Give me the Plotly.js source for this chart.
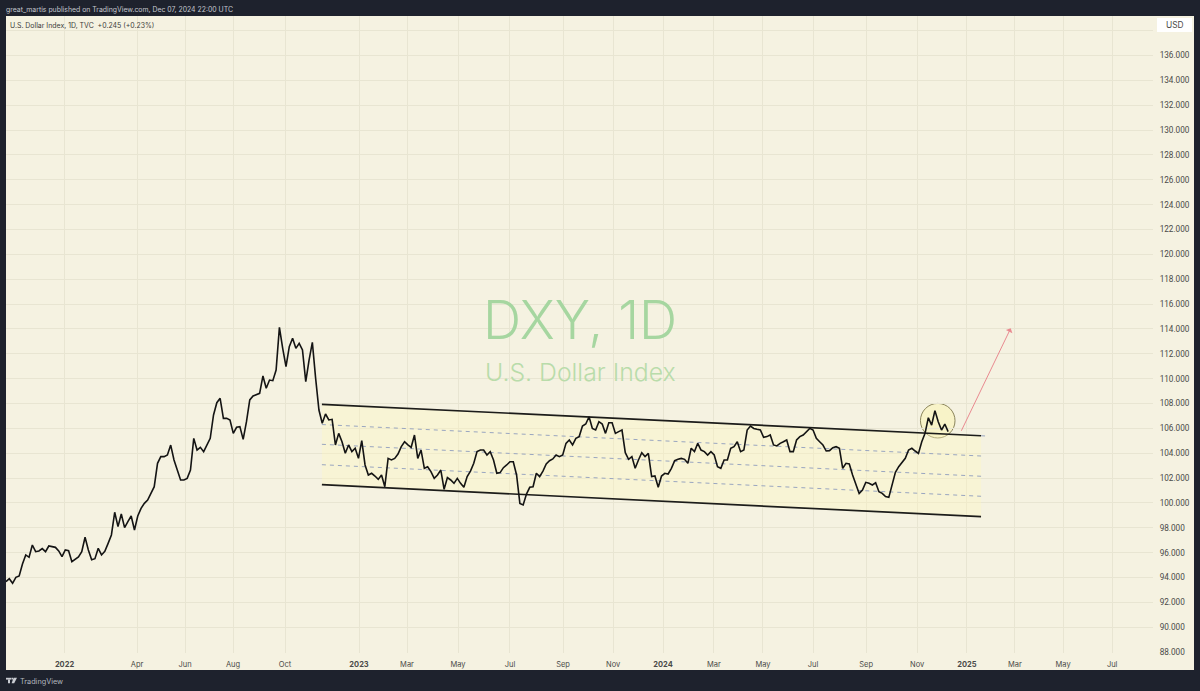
<!DOCTYPE html>
<html><head><meta charset="utf-8">
<script src="https://cdn.plot.ly/plotly-3.0.1.min.js"></script>
<style>html,body{margin:0;padding:0;background:#1e222d;overflow:hidden}</style>
</head><body><div id="chart" style="width:1200px;height:691px"></div>
<script>
// Closing values of the U.S. Dollar Index, one every few sessions
const closes2021 = [93.67,93.91,93.54,94.02,94.13,95.09,95.82,95.63,96.62,96.08,96.14,96.33,96.08,96.54,96.49,96.43,96.14,95.68,96.22,96.16,95.28,95.47,95.66,96.08,97.24,96.22,95.44,95.52,96.35,95.82,96.11,96.75,97.43,99.25,98.10,99.11,98.02,98.50,98.95,97.83,98.95,99.57,99.97,100.24,100.78,101.31];
const closes2022 = [103.19,103.73,103.73,103.86,104.66,103.46,102.65,101.85,101.85,101.98,102.65,105.20,104.26,104.48,104.13,104.66,105.20,107.08,108.07,108.42,106.81,106.81,106.68,105.60,106.09,106.14,105.12,106.54,108.29,108.61,108.69,108.82,110.22,109.23,109.89,109.84,110.70,114.13,112.44,110.97,112.58,113.25,112.44,112.84,112.31,109.76,111.50,112.92,110.03,107.48,106.41,107.16,106.68];
const closes2023 = [106.73,104.67,105.60,104.93,104.00,104.67,104.13,104.40,103.59,105.01,103.06,102.25,102.39,102.17,101.90,102.25,101.31,103.59,103.46,103.59,103.94,104.53,104.93,104.67,104.48,105.47,103.59,104.26,102.79,102.92,102.52,101.98,102.25,102.65,101.10,102.04,101.85,101.58,101.98,101.58,101.26,102.12,102.57,103.19,104.13,104.26,104.26,103.86,104.13,103.46,102.39,102.44,102.84,103.06,103.32,103.32,102.25,99.97,99.84,100.72,101.26,101.31,102.39,102.12,102.57,103.14,103.40,103.54,103.86,103.73,103.86,104.80,105.07,104.67,105.20,105.34];
const closes2024a = [106.19,106.35,106.94,106.00,105.87,106.54,106.35,105.60,106.46,106.46,105.60,105.74,105.87,104.05,103.51,103.73,102.79,103.46,104.05,103.73,103.99,102.12,102.17,101.26,102.17,102.39,102.33,102.79,103.40,103.51,103.59,103.51,103.19,104.40,104.13,104.80,104.26,104.13,103.86,104.13,103.86,102.92,102.79,103.46,103.46,104.40,104.53,104.93,104.13,104.26,105.87,106.19,106.00,105.93,105.87,105.28,105.34,105.47,104.67,104.59,104.80,104.93,105.07,104.13,104.13,105.07,105.34,105.47,105.74,106.00,105.87,105.20,104.93];
const closes2024b = [104.66,104.18,104.21,104.45,104.53,104.40,102.79,103.19,103.14,102.25,101.53,100.77,101.04,101.66,101.58,101.45,101.63,100.91,100.77,100.51,100.45,101.45,102.46,102.92,103.27,103.59,104.26,104.40,104.18,103.99,104.93,105.60,106.86,106.27,107.43,106.54,105.87,106.35,105.74];
const closes = [...closes2021,...closes2022,...closes2023,...closes2024a,...closes2024b];
const sampleIndex = closes.map((_,i)=>i);

// Time axis: tick positions on the sample scale, and their labels
const timeTickVals = [17.76,39.77,54.34,68.91,84.70,107.17,121.74,137.22,153.0,169.1,184.3,199.45,214.9,229.8,245.0,261.1,276.6,291.7,306.3,320.9,335.8];
const timeTickText = ['<b>2022</b>','Apr','Jun','Aug','Oct','<b>2023</b>','Mar','May','Jul','Sep','Nov','<b>2024</b>','Mar','May','Jul','Sep','Nov','<b>2025</b>','Mar','May','Jul'];

// Price axis
const priceTickVals = [88,90,92,94,96,98,100,102,104,106,108,110,112,114,116,118,120,122,124,126,128,130,132,134,136,138];
const priceTickText = priceTickVals.map(v=>v===138?'':v.toFixed(3));

// Channel drawing (start, end)
const channelX = [95.9,296.0];
const channelTop = [107.94,105.41];
const channelMid1 = [106.31,103.78];
const channelMid2 = [104.72,102.15];
const channelMid3 = [103.08,100.54];
const channelBottom = [101.47,98.90];
const topExtendX = [296.0,297.4];
const topExtendY = [105.41,105.39];

const L=6,T=16,PW=1147,PH=637;
const px=x=>(x-L)/PW, py=y=>(T+PH-y)/PH;
const FONT='Inter, "Noto Sans", sans-serif';
const INK='#4a4a48';
const solid=(y,w)=>({x:channelX,y:y,mode:'lines',line:{color:'#1c1c1a',width:w},hoverinfo:'skip',showlegend:false});
const dash=(x,y)=>({x:x,y:y,mode:'lines',line:{color:'#9aa6c0',width:1,dash:'4px,4px'},hoverinfo:'skip',showlegend:false});

const traces=[
 {x:[channelX[0],channelX[1],channelX[1],channelX[0]],
  y:[channelTop[0],channelTop[1],channelBottom[1],channelBottom[0]],
  mode:'none',fill:'toself',fillcolor:'rgba(255,248,190,0.36)',hoverinfo:'skip',showlegend:false},
 dash(channelX,channelMid1),dash(channelX,channelMid2),dash(channelX,channelMid3),
 solid(channelTop,1.7),solid(channelBottom,1.7),dash(topExtendX,topExtendY),
 {x:sampleIndex,y:closes,mode:'lines',line:{color:'#141414',width:1.6},name:'DXY',showlegend:false}
];

const rect=(x0,y0,x1,y1,c,layer)=>({type:'rect',xref:'paper',yref:'paper',x0:px(x0),x1:px(x1),y0:py(y0),y1:py(y1),fillcolor:c,line:{width:0},layer:layer||'below'});
const note=(x,y,text,size,color,anchor,extra)=>Object.assign({xref:'paper',yref:'paper',x:px(x),y:py(y),text:text,showarrow:false,xanchor:anchor||'left',yanchor:'middle',font:{family:FONT,size:size,color:color}},extra||{});

const layout={
 width:1200,height:691,
 margin:{l:L,r:1200-L-PW,t:T,b:691-T-PH,pad:0},
 paper_bgcolor:'#1e222d',plot_bgcolor:'rgba(0,0,0,0)',showlegend:false,
 xaxis:{type:'linear',range:[0,348.2],tickmode:'array',tickvals:timeTickVals,ticktext:timeTickText,
   showgrid:true,gridcolor:'#e8e5d2',gridwidth:1,zeroline:false,showline:false,ticks:'outside',ticklen:4,tickcolor:'rgba(0,0,0,0)',
   tickfont:{family:FONT,size:7.5,color:INK}},
 yaxis:{type:'linear',side:'right',range:[87.93,139.18],tickmode:'array',tickvals:priceTickVals,ticktext:priceTickText,
   showgrid:true,gridcolor:'#e8e5d2',gridwidth:1,zeroline:false,showline:false,ticks:'outside',ticklen:4,tickcolor:'rgba(0,0,0,0)',
   tickfont:{family:'Roboto, sans-serif',size:8.2,color:INK}},
 shapes:[
  rect(6,16,1194,670,'#f5f2e1'),
  rect(1157,18,1192,32,'#ffffff','above'),
  rect(1155,655,1192,657.6,'#f5f2e1','above'),
  {type:'circle',xref:'x',yref:'y',x0:277.6,x1:288.1,y0:105.23,y1:108.01,line:{color:'#8a845a',width:1},fillcolor:'rgba(252,243,170,0.45)',layer:'below'},
  rect(6,677.8,11,679.6,'#c9ccd2','above'),
  rect(8,679.6,10,683.2,'#c9ccd2','above'),
  rect(11.4,677.8,13,679.6,'#c9ccd2','above'),
  {type:'path',xref:'paper',yref:'paper',layer:'above',fillcolor:'#c9ccd2',line:{width:0},
   path:`M ${px(13.6)} ${py(677.8)} L ${px(17)} ${py(677.8)} L ${px(14.2)} ${py(683.2)} L ${px(11.6)} ${py(683.2)} Z`}
 ],
 annotations:[
  note(4,10,'great_martis published on TradingView.com, Dec 07, 2024 22:00 UTC',6.9,'#c4c7cd'),
  note(8,26,'U.S. Dollar Index, 1D, TVC&nbsp;&nbsp;+0.245 (+0.23%)',6.95,'#3c3c3a'),
  note(1174.5,25,'USD',8.4,INK,'center'),
  note(580,320,'DXY, 1D',53,'#a6d6a0','center',{font:{family:'Inter, Roboto, sans-serif',size:53,color:'#a6d6a0',weight:300}}),
  note(580,372,'U.S. Dollar Index',24.8,'#b9dcaa','center',{font:{family:'Inter, Roboto, sans-serif',size:24.8,color:'#b9dcaa',weight:300}}),
  note(17.5,681,'TradingView',7.3,'#b3b7bf'),
  {xref:'x',yref:'y',axref:'x',ayref:'y',x:305.0,y:114.05,ax:289.8,ay:105.69,text:'',showarrow:true,arrowhead:1,arrowsize:1.2,arrowwidth:1,arrowcolor:'#e98a90'}
 ]
};
Plotly.newPlot('chart',traces,layout,{staticPlot:true,displayModeBar:false});
</script></body></html>
